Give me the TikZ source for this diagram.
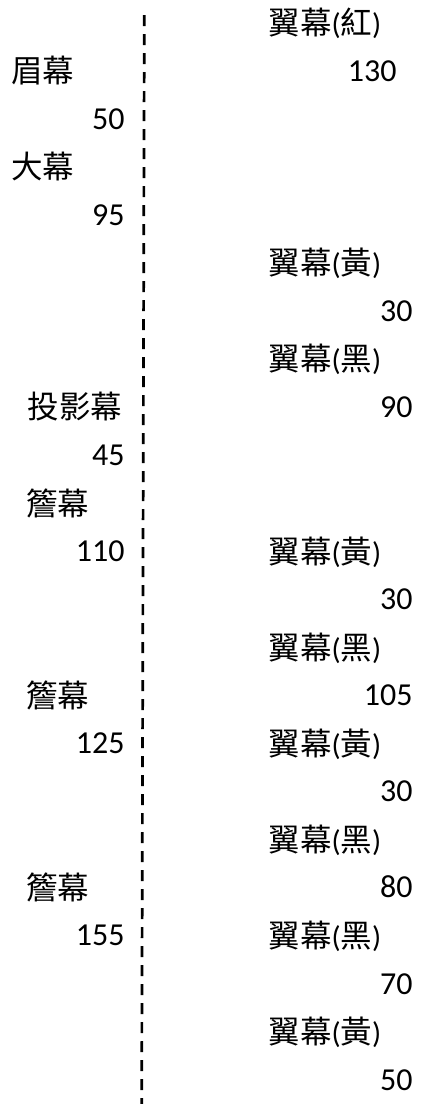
\documentclass[tikz,border=0pt]{standalone}
\usepackage{fontspec}
\setmainfont{Carlito}
\newfontfamily\cjk[Scale=1.05]{Noto Sans CJK TC}
\begin{document}
\begin{tikzpicture}[x=1pt,y=-1pt,
  txt/.style={inner sep=0pt,outer sep=0pt,font=\fontsize{30}{36}\selectfont},
  lab/.style={txt,anchor=base west},
  num/.style={txt,anchor=base east,font=\fontsize{32}{38}\selectfont},
  divider/.style={line width=2.7pt,dash pattern=on 11pt off 8pt}]
\useasboundingbox (0,0) rectangle (434,1104);
\def\r#1{\fpeval{23+48.05*#1}}
% divider
\coordinate (top) at (144.3,15);
\coordinate (bot) at (141.7,1104);
\draw[divider] (top) -- (bot);
% left column
\node[lab] (l1) at (11.5,{\r{1}+11.5}) {\cjk 眉幕};
\node[num] (n2) at (124.5,{\r{2}+10}) {50};
\node[lab] (l3) at (11.5,{\r{3}+11.5}) {\cjk 大幕};
\node[num] (n4) at (124.5,{\r{4}+10}) {95};
\node[lab] (l8) at (27.5,{\r{8}+11.5}) {\cjk 投影幕};
\node[num] (n9) at (124.5,{\r{9}+10}) {45};
\node[lab] (l10) at (26.5,{\r{10}+11.5}) {\cjk 簷幕};
\node[num] (n11) at (124.5,{\r{11}+10}) {110};
\node[lab] (l14) at (26.5,{\r{14}+11.5}) {\cjk 簷幕};
\node[num] (n15) at (124.5,{\r{15}+10}) {125};
\node[lab] (l18) at (26.5,{\r{18}+11.5}) {\cjk 簷幕};
\node[num] (n19) at (124.5,{\r{19}+10}) {155};
% right column
\node[lab] (r0) at (268.5,{\r{0}+11.5}) {{\cjk 翼幕}({\cjk 紅})};
\node[num] (m1) at (396.5,{\r{1}+10}) {130};
\node[lab] (r5) at (268.5,{\r{5}+11.5}) {{\cjk 翼幕}({\cjk 黃})};
\node[num] (m6) at (412.5,{\r{6}+10}) {30};
\node[lab] (r7) at (268.5,{\r{7}+11.5}) {{\cjk 翼幕}({\cjk 黑})};
\node[num] (m8) at (412.5,{\r{8}+10}) {90};
\node[lab] (r11) at (268.5,{\r{11}+11.5}) {{\cjk 翼幕}({\cjk 黃})};
\node[num] (m12) at (412.5,{\r{12}+10}) {30};
\node[lab] (r13) at (268.5,{\r{13}+11.5}) {{\cjk 翼幕}({\cjk 黑})};
\node[num] (m14) at (412.5,{\r{14}+10}) {105};
\node[lab] (r15) at (268.5,{\r{15}+11.5}) {{\cjk 翼幕}({\cjk 黃})};
\node[num] (m16) at (412.5,{\r{16}+10}) {30};
\node[lab] (r17) at (268.5,{\r{17}+11.5}) {{\cjk 翼幕}({\cjk 黑})};
\node[num] (m18) at (412.5,{\r{18}+10}) {80};
\node[lab] (r19) at (268.5,{\r{19}+11.5}) {{\cjk 翼幕}({\cjk 黑})};
\node[num] (m20) at (412.5,{\r{20}+10}) {70};
\node[lab] (r21) at (268.5,{\r{21}+11.5}) {{\cjk 翼幕}({\cjk 黃})};
\node[num] (m22) at (412.5,{\r{22}+10}) {50};
\end{tikzpicture}
\end{document}
